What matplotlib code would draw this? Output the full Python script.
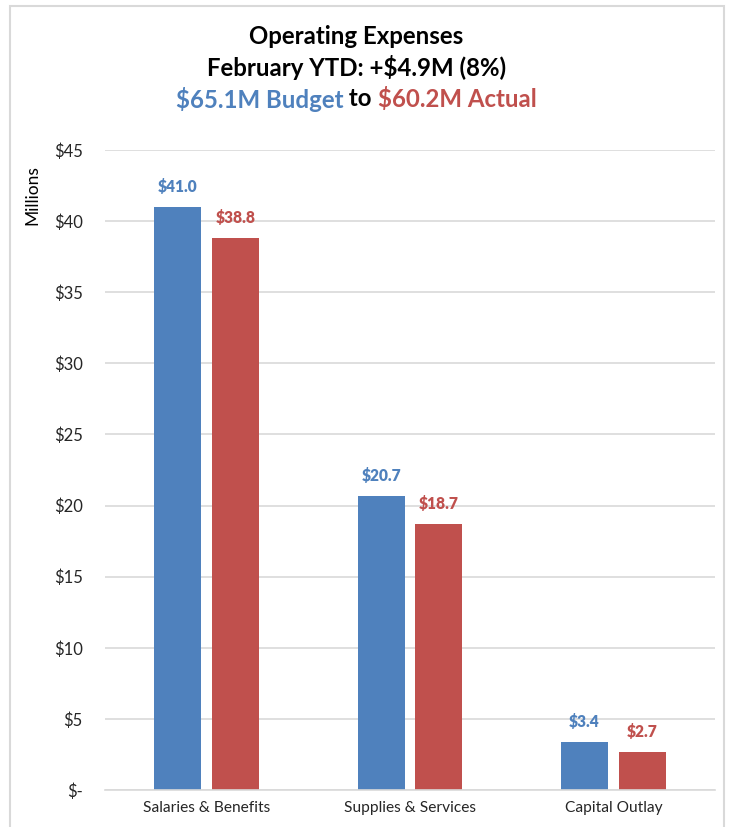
import matplotlib
matplotlib.use("Agg")
import matplotlib.pyplot as plt
from matplotlib.patches import Rectangle
import numpy as np

categories = ["Salaries & Benefits", "Supplies & Services", "Capital Outlay"]
budget = [41.0, 20.7, 3.4]
actual = [38.8, 18.7, 2.7]
yticks = [0, 5, 10, 15, 20, 25, 30, 35, 40, 45]

BLUE = "#4F81BD"
RED = "#C0504D"
GRID = "#D9D9D9"
FONT = ["Lato", "DejaVu Sans"]
plt.rcParams["font.family"] = FONT

W, H = 736, 827
fig = plt.figure(figsize=(W / 100, H / 100), dpi=100)
ax = fig.add_axes([105 / W, 1 - 790 / H, 610 / W, 640 / H])

x = np.arange(len(categories))
bw = 0.23
off = 0.142
ax.bar(x - off, budget, bw, color=BLUE, zorder=3)
ax.bar(x + off, actual, bw, color=RED, zorder=3)
for xi, b, a in zip(x, budget, actual):
    ax.text(xi - off, b + 0.85, f"${b:.1f}", ha="center", va="bottom",
            color=BLUE, fontsize=11.2, fontweight="heavy")
    ax.text(xi + off, a + 0.85, f"${a:.1f}", ha="center", va="bottom",
            color=RED, fontsize=11.2, fontweight="heavy")

ax.set_xlim(-0.5, 2.5)
ax.set_ylim(0, 45)
ax.set_yticks(yticks)
ax.set_yticklabels(["$-" if v == 0 else f"${v}" for v in yticks])
ax.set_xticks(x)
ax.set_xticklabels(categories)
ax.tick_params(axis="y", length=0, pad=16, labelsize=12, colors="#262626")
ax.tick_params(axis="x", length=0, pad=8, labelsize=11.2, colors="#262626")
ax.yaxis.grid(True, color=GRID, linewidth=1.2, zorder=0)
for s in ["top", "right", "left"]:
    ax.spines[s].set_visible(False)
ax.spines["bottom"].set_color(GRID)
ax.spines["bottom"].set_linewidth(1.2)
ax.spines["bottom"].set_zorder(4)

fig.text(32 / W, 1 - 195 / H, "Millions", rotation=90, ha="center", va="center",
         fontsize=12.5, color="black")

# frame
fig.patches.append(Rectangle((10 / W, -0.05), 714 / W, 1 - 6 / H + 0.05,
                             transform=fig.transFigure, fill=False,
                             edgecolor=GRID, linewidth=1.5))

# titles
TS = 17.3
fig.text(0.484, 1 - 36 / H, "Operating Expenses", ha="center", va="center",
         fontsize=TS, fontweight="bold")
fig.text(0.484, 1 - 67 / H, "February YTD: +$4.9M (8%)", ha="center", va="center",
         fontsize=TS, fontweight="bold")

parts = [("$65.1M Budget", BLUE), (" to ", "black"), ("$60.2M Actual", RED)]
fig.canvas.draw()
r = fig.canvas.get_renderer()
texts = []
widths = []
for s, c in parts:
    t = fig.text(0, 1 - 99 / H, s, ha="left", va="center", fontsize=TS,
                 fontweight="bold", color=c)
    widths.append(t.get_window_extent(r).width)
    texts.append(t)
total = sum(widths)
start = 0.484 * W - total / 2
for t, w in zip(texts, widths):
    t.set_x(start / W)
    start += w

fig.savefig("out.png", dpi=100)
